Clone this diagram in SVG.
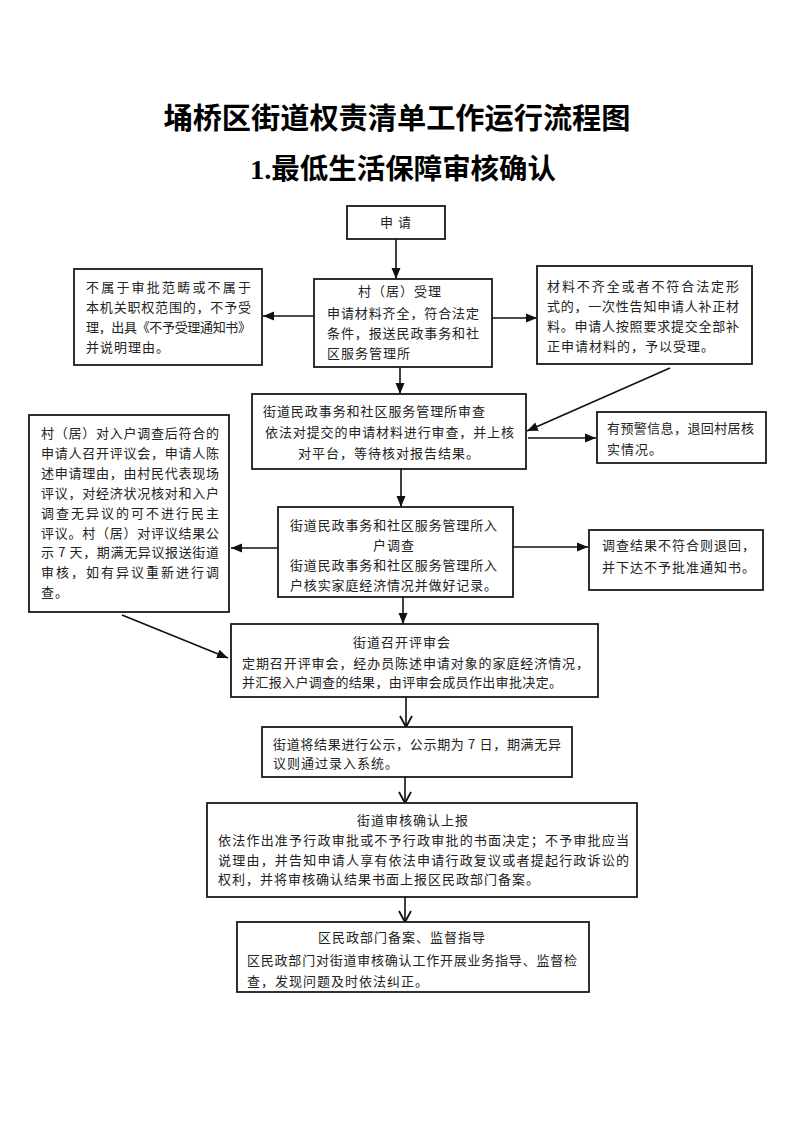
<svg xmlns="http://www.w3.org/2000/svg" width="793" height="1122" viewBox="0 0 793 1122">
<style>
.box{fill:#fff;stroke:#1a1a1a;stroke-width:1.8}
.t{font-family:"Noto Sans CJK SC","Liberation Sans",sans-serif;font-size:13px;fill:#222;letter-spacing:1px}
.m{text-anchor:middle}
.title{font-family:"Liberation Serif","Noto Sans CJK SC",serif;font-weight:bold;fill:#000;text-anchor:middle}
.c{fill:none;stroke:#111;stroke-width:1.6}
</style>
<defs>
<marker id="af" markerUnits="userSpaceOnUse" markerWidth="12" markerHeight="10" refX="11" refY="5" orient="auto">
<path d="M0,0.5 L11,5 L0,9.5 z" fill="#111"/>
</marker>
<marker id="ao" markerUnits="userSpaceOnUse" markerWidth="14" markerHeight="14" refX="12" refY="7" orient="auto">
<path d="M1,1 L12,7 L1,13" fill="none" stroke="#111" stroke-width="1.8"/>
</marker>
</defs>
<rect width="793" height="1122" fill="#fff"/>
<g id="titles">
<text class="title" x="397" y="129" font-size="29" textLength="467" lengthAdjust="spacingAndGlyphs">埇桥区街道权责清单工作运行流程图</text>
<text class="title" x="403" y="179" font-size="28" textLength="306" lengthAdjust="spacingAndGlyphs">1.最低生活保障审核确认</text>
</g>
<g id="connectors">
<line class="c" x1="396" y1="239" x2="396" y2="279" marker-end="url(#af)"/>
<line class="c" x1="314" y1="316" x2="263" y2="316" marker-end="url(#af)"/>
<line class="c" x1="492" y1="318" x2="537" y2="318" marker-end="url(#af)"/>
<line class="c" x1="400" y1="367" x2="400" y2="394" marker-end="url(#af)"/>
<line class="c" x1="670" y1="368" x2="527" y2="431" marker-end="url(#af)"/>
<line class="c" x1="528" y1="438" x2="596" y2="438" marker-end="url(#af)"/>
<line class="c" x1="401" y1="469" x2="401" y2="507" marker-end="url(#af)"/>
<line class="c" x1="278" y1="548" x2="231" y2="548" marker-end="url(#af)"/>
<line class="c" x1="513" y1="547" x2="588" y2="547" marker-end="url(#af)"/>
<line class="c" x1="403" y1="585" x2="403" y2="624" marker-end="url(#af)"/>
<line class="c" x1="122" y1="615" x2="228" y2="658" marker-end="url(#af)"/>
<line class="c" x1="406" y1="697" x2="406" y2="727" marker-end="url(#ao)"/>
<line class="c" x1="405" y1="777" x2="405" y2="803" marker-end="url(#ao)"/>
<line class="c" x1="405" y1="897" x2="405" y2="922" marker-end="url(#ao)"/>
</g>
<g id="n_apply">
<rect class="box" x="347" y="206" width="98" height="33"/>
<text class="t m" x="396" y="227">申 请</text>
</g>
<g id="n_accept">
<rect class="box" x="314" y="279" width="178" height="88"/>
<text class="t" x="358" y="296">村（居）受理</text>
<text class="t" x="327" y="318" textLength="153">申请材料齐全，符合法定</text>
<text class="t" x="327" y="338" textLength="153">条件，报送民政事务和社</text>
<text class="t" x="327" y="358">区服务管理所</text>
</g>
<g id="n_reject">
<rect class="box" x="74" y="269" width="188" height="96"/>
<text class="t" x="86" y="292" textLength="166">不属于审批范畴或不属于</text>
<text class="t" x="86" y="312" textLength="166">本机关职权范围的，不予受</text>
<text class="t" x="86" y="332" textLength="166">理，出具《不予受理通知书》</text>
<text class="t" x="86" y="352">并说明理由。</text>
</g>
<g id="n_supplement">
<rect class="box" x="537" y="266" width="215" height="98"/>
<text class="t" x="547" y="291" textLength="193">材料不齐全或者不符合法定形</text>
<text class="t" x="547" y="311" textLength="193">式的，一次性告知申请人补正材</text>
<text class="t" x="547" y="331" textLength="193">料。申请人按照要求提交全部补</text>
<text class="t" x="547" y="351">正申请材料的，予以受理。</text>
</g>
<g id="n_review">
<rect class="box" x="252" y="394" width="274" height="75"/>
<text class="t" x="263" y="416" textLength="223">街道民政事务和社区服务管理所审查</text>
<text class="t" x="265" y="437" textLength="250">依法对提交的申请材料进行审查，并上核</text>
<text class="t" x="298" y="458">对平台，等待核对报告结果。</text>
</g>
<g id="n_warn">
<rect class="box" x="597" y="412" width="169" height="51"/>
<text class="t" x="607" y="433" textLength="148">有预警信息，退回村居核</text>
<text class="t" x="607" y="454">实情况。</text>
</g>
<g id="n_survey">
<rect class="box" x="278" y="507" width="235" height="90"/>
<text class="t" x="290" y="530" textLength="208">街道民政事务和社区服务管理所入</text>
<text class="t m" x="394" y="550">户调查</text>
<text class="t" x="290" y="570" textLength="208">街道民政事务和社区服务管理所入</text>
<text class="t" x="290" y="590" textLength="208">户核实家庭经济情况并做好记录。</text>
</g>
<g id="n_reject2">
<rect class="box" x="589" y="530" width="174" height="60"/>
<text class="t" x="602" y="550">调查结果不符合则退回，</text>
<text class="t" x="602" y="572">并下达不予批准通知书。</text>
</g>
<g id="n_village">
<rect class="box" x="29" y="415" width="200" height="197"/>
<text class="t" x="41" y="438" textLength="179">村（居）对入户调查后符合的</text>
<text class="t" x="41" y="458" textLength="179">申请人召开评议会，申请人陈</text>
<text class="t" x="41" y="478" textLength="179">述申请理由，由村民代表现场</text>
<text class="t" x="41" y="498" textLength="179">评议，对经济状况核对和入户</text>
<text class="t" x="41" y="518" textLength="179">调查无异议的可不进行民主</text>
<text class="t" x="41" y="538" textLength="179">评议。村（居）对评议结果公</text>
<text class="t" x="41" y="557" textLength="179">示 7 天，期满无异议报送街道</text>
<text class="t" x="41" y="577" textLength="179">审核，如有异议重新进行调</text>
<text class="t" x="41" y="597">查。</text>
</g>
<g id="n_council">
<rect class="box" x="231" y="624" width="367" height="73"/>
<text class="t m" x="402" y="647">街道召开评审会</text>
<text class="t" x="242" y="668" textLength="348">定期召开评审会，经办员陈述申请对象的家庭经济情况，</text>
<text class="t" x="242" y="687" textLength="321">并汇报入户调查的结果，由评审会成员作出审批决定。</text>
</g>
<g id="n_publicity">
<rect class="box" x="262" y="727" width="310" height="50"/>
<text class="t" x="273" y="749" textLength="289">街道将结果进行公示，公示期为 7 日，期满无异</text>
<text class="t" x="273" y="768">议则通过录入系统。</text>
</g>
<g id="n_confirm">
<rect class="box" x="207" y="803" width="430" height="94"/>
<text class="t m" x="413" y="825">街道审核确认上报</text>
<text class="t" x="218" y="845" textLength="412">依法作出准予行政审批或不予行政审批的书面决定；不予审批应当</text>
<text class="t" x="218" y="865" textLength="412">说理由，并告知申请人享有依法申请行政复议或者提起行政诉讼的</text>
<text class="t" x="218" y="884">权利，并将审核确认结果书面上报区民政部门备案。</text>
</g>
<g id="n_record">
<rect class="box" x="237" y="922" width="352" height="70"/>
<text class="t m" x="402" y="942">区民政部门备案、监督指导</text>
<text class="t" x="247" y="965" textLength="331">区民政部门对街道审核确认工作开展业务指导、监督检</text>
<text class="t" x="247" y="986">查，发现问题及时依法纠正。</text>
</g>
</svg>
